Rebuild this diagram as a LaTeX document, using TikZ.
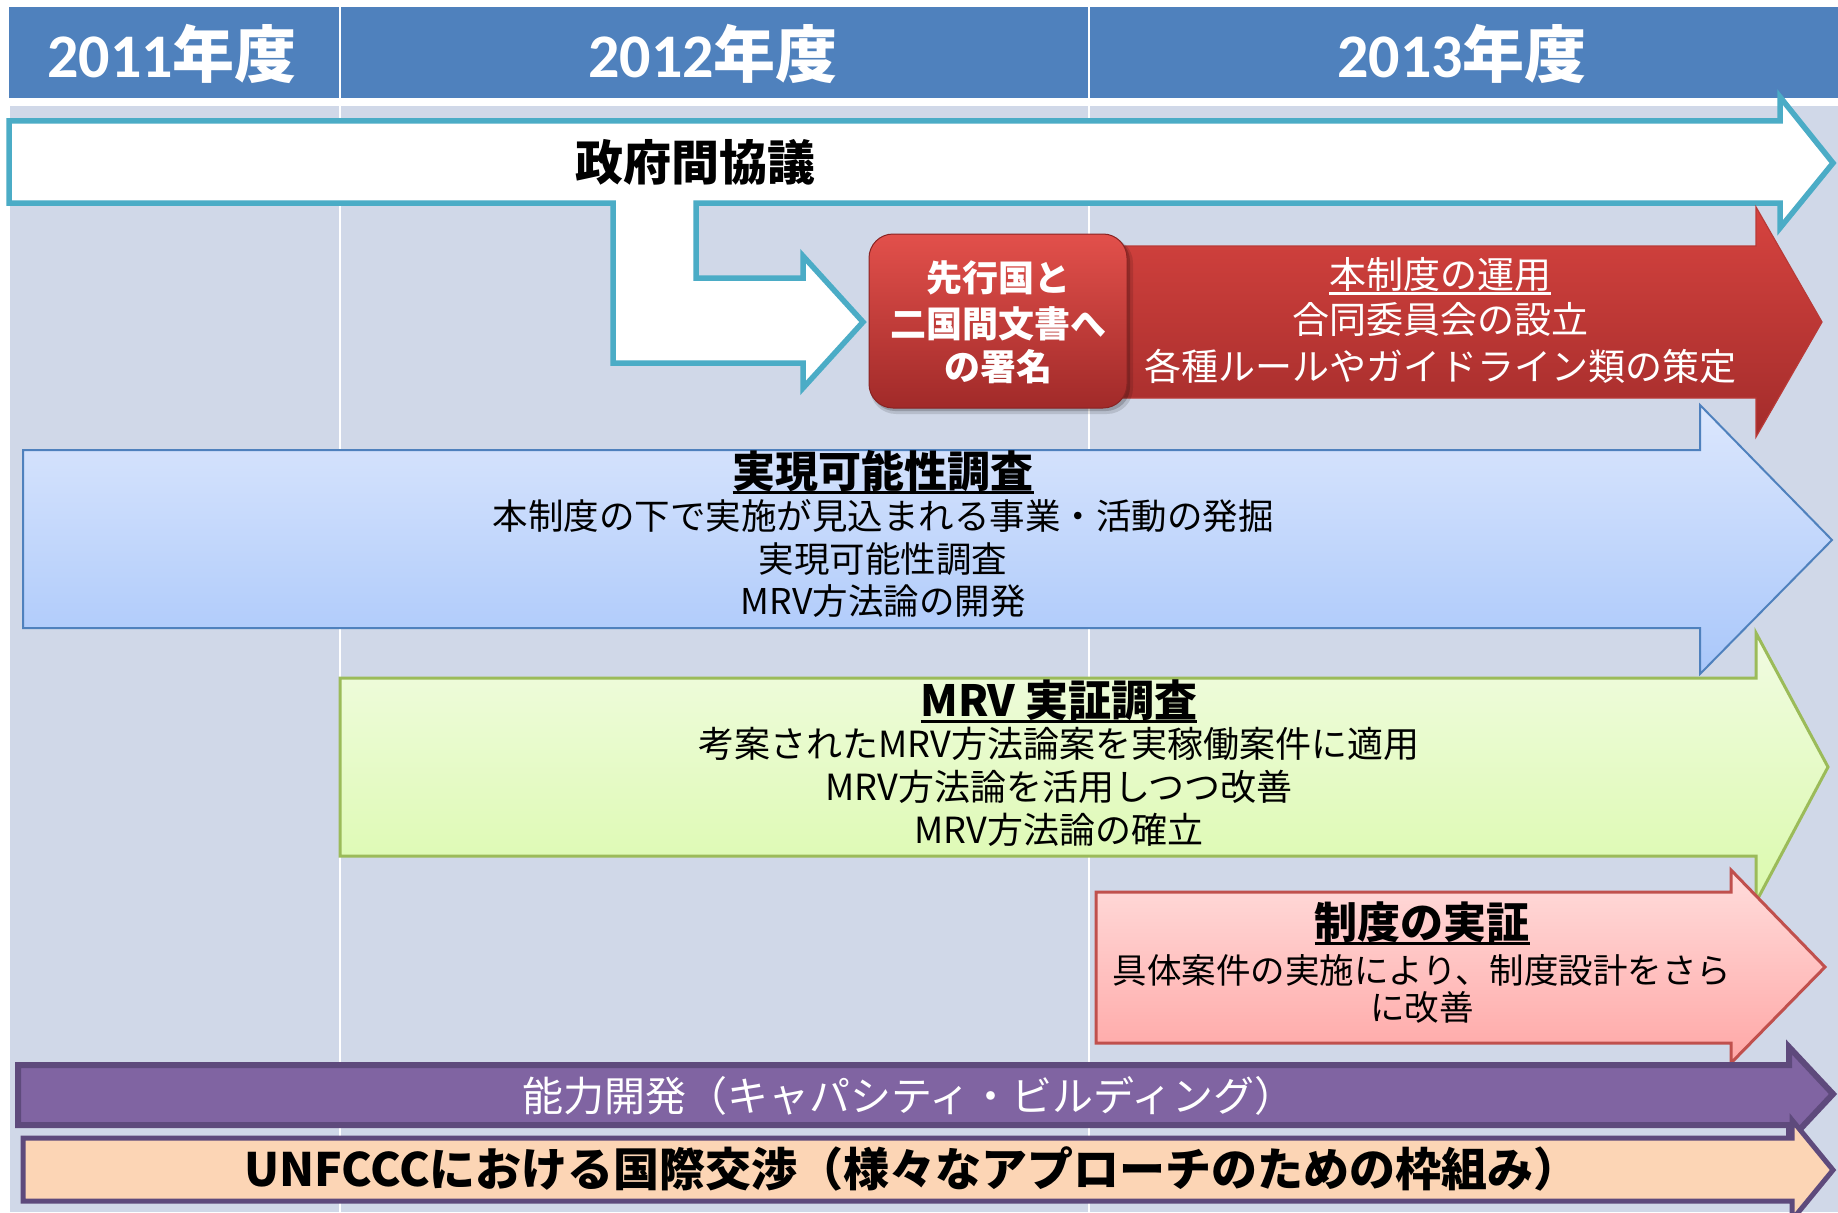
\documentclass[tikz,border=0pt]{standalone}
\usepackage{fontspec}
\setmainfont{Noto Sans CJK JP}
\newfontfamily\calfont{Carlito}
\definecolor{hdr}{HTML}{4F81BD}
\definecolor{bgc}{HTML}{D0D8E8}
\definecolor{tealc}{HTML}{4BACC6}
\definecolor{redtop}{HTML}{D6433F}
\definecolor{redbot}{HTML}{A32C2B}
\definecolor{redln}{HTML}{B93A37}
\definecolor{boxtop}{HTML}{E2504B}
\definecolor{boxmid}{HTML}{C93B37}
\definecolor{boxbot}{HTML}{A12A29}
\definecolor{bluetop}{HTML}{DCE7FD}
\definecolor{bluebot}{HTML}{A9C7FA}
\definecolor{blueln}{HTML}{4F81BD}
\definecolor{grntop}{HTML}{F1FBE2}
\definecolor{grnbot}{HTML}{DBFAAD}
\definecolor{grnln}{HTML}{9BBB59}
\definecolor{pnktop}{HTML}{FFDDDC}
\definecolor{pnkbot}{HTML}{FFA7A6}
\definecolor{pnkln}{HTML}{C0504D}
\definecolor{purp}{HTML}{8064A2}
\definecolor{purpln}{HTML}{5E4A7C}
\definecolor{peach}{HTML}{FCD5B5}
\newcommand\myul[1]{\setbox0=\hbox{#1}\rlap{\rule[-0.17em]{\wd0}{0.07em}}\box0}
\newcommand\fsz[1]{\fontsize{#1}{#1}\selectfont}
\tikzset{
  txt/.style={inner sep=0pt, anchor=base},
  hdrtxt/.style={txt, font=\fsz{62}\bfseries, text=white},
  wbold/.style={txt, font=\fsz{36}\bfseries, text=white},
  wnorm/.style={txt, font=\fsz{37}, text=white},
  ttl/.style={txt, font=\fsz{43}\bfseries, text=black},
  body/.style={txt, font=\fsz{35.5}, text=black},
  arrowline/.style={line join=miter, miter limit=10}
}
\begin{document}
\begin{tikzpicture}[x=1pt,y=-1pt]
\fill[white] (0,0) rectangle (1838,1212);
\useasboundingbox (0,0) rectangle (1838,1212);
\clip (0,0) rectangle (1838,1212);
% header and background
\fill[hdr] (9,7) rectangle (1838,98);
\fill[bgc] (10,106) rectangle (1838,1212);
\draw[white, line width=2.5] (340,7) -- (340,1212);
\draw[white, line width=2.5] (1089,7) -- (1089,1212);
\node[hdrtxt] (h1) at (172,78) {{\calfont 2011}年度};
\node[hdrtxt] (h2) at (713,78) {{\calfont 2012}年度};
\node[hdrtxt] (h3) at (1462,78) {{\calfont 2013}年度};
% government consultation arrow
\draw[arrowline, tealc, line width=5.5, fill=white]
 (9,121) -- (1780,121) -- (1780,97) -- (1833,163) -- (1780,228) -- (1780,203)
 -- (696,203) -- (696,278) -- (803,278) -- (803,256) -- (863,322) -- (803,388)
 -- (803,363) -- (613,363) -- (613,203) -- (9,203) -- cycle;
\node[txt, font=\fsz{48}\bfseries] (gov) at (695,180) {政府間協議};
% red arrow
\path[arrowline, top color=redtop, bottom color=redbot, draw=redln, line width=1.2]
 (1100,246) -- (1756,246) -- (1756,207) -- (1822,322) -- (1756,437) -- (1756,398) -- (1100,398) -- cycle;
\node[wnorm] (op1) at (1440,288.7) {\myul{本制度の運用}};
\node[wnorm] (op2) at (1440,333.7) {合同委員会の設立};
\node[wnorm] (op3) at (1440,380.7) {各種ルールやガイドライン類の策定};
% red box
\fill[black, opacity=0.12, rounded corners=26] (870,237) rectangle (1133,414);
\fill[black, opacity=0.18, rounded corners=24] (871,237) rectangle (1130,411);
\path[top color=boxtop, middle color=boxmid, bottom color=boxbot, draw=boxbot!85!black, line width=1, rounded corners=24]
 (869,234) rectangle (1127,408);
\node[wbold] (sg1) at (998,291.3) {先行国と};
\node[wbold] (sg2) at (998,337.3) {二国間文書へ};
\node[wbold] (sg3) at (998,380.3) {の署名};
% blue arrow
\path[arrowline, top color=bluetop, bottom color=bluebot, draw=blueln, line width=2]
 (23,450) -- (1700,450) -- (1700,405) -- (1832,540) -- (1700,674) -- (1700,628) -- (23,628) -- cycle;
\node[ttl] (fs0) at (883,487) {\myul{実現可能性調査}};
\node[body] (fs1) at (883,529) {本制度の下で実施が見込まれる事業・活動の発掘};
\node[body] (fs2) at (883,572) {実現可能性調査};
\node[body] (fs3) at (883,614) {MRV方法論の開発};
% green arrow
\path[arrowline, top color=grntop, bottom color=grnbot, draw=grnln, line width=3]
 (340,678) -- (1756,678) -- (1756,633) -- (1828,767) -- (1756,902) -- (1756,856) -- (340,856) -- cycle;
\node[ttl] (mv0) at (1059,716) {\myul{MRV 実証調査}};
\node[body, font=\fsz{36}] (mv1) at (1059,757.3) {考案されたMRV方法論案を実稼働案件に適用};
\node[body, font=\fsz{36}] (mv2) at (1059,800.3) {MRV方法論を活用しつつ改善};
\node[body, font=\fsz{36}] (mv3) at (1059,843.3) {MRV方法論の確立};
% pink arrow
\path[arrowline, top color=pnktop, bottom color=pnkbot, draw=pnkln, line width=3]
 (1096,892) -- (1731,892) -- (1731,870) -- (1825,967) -- (1731,1063) -- (1731,1043) -- (1096,1043) -- cycle;
\node[ttl] (sj0) at (1422,938) {\myul{制度の実証}};
\node[body, font=\fsz{34.5}] (sj1) at (1422,983.8) {具体案件の実施により、制度設計をさら};
\node[body, font=\fsz{34.5}] (sj2) at (1422,1020.8) {に改善};
% purple arrow
\draw[arrowline, fill=purp, draw=purpln, line width=6]
 (18,1065) -- (1789,1065) -- (1789,1047) -- (1833,1094) -- (1789,1141) -- (1789,1125) -- (18,1125) -- cycle;
\node[txt, font=\fsz{41}, text=white] (cb) at (909,1111) {能力開発（キャパシティ・ビルディング）};
% peach arrow
\draw[arrowline, fill=peach, draw=purpln, line width=5]
 (23,1138) -- (1792,1138) -- (1792,1120) -- (1833,1170) -- (1792,1220) -- (1792,1201) -- (23,1201) -- cycle;
\node[txt, font=\fsz{46}\bfseries] (un) at (912,1186) {UNFCCCにおける国際交渉（様々なアプローチのための枠組み）};
\end{tikzpicture}
\end{document}
